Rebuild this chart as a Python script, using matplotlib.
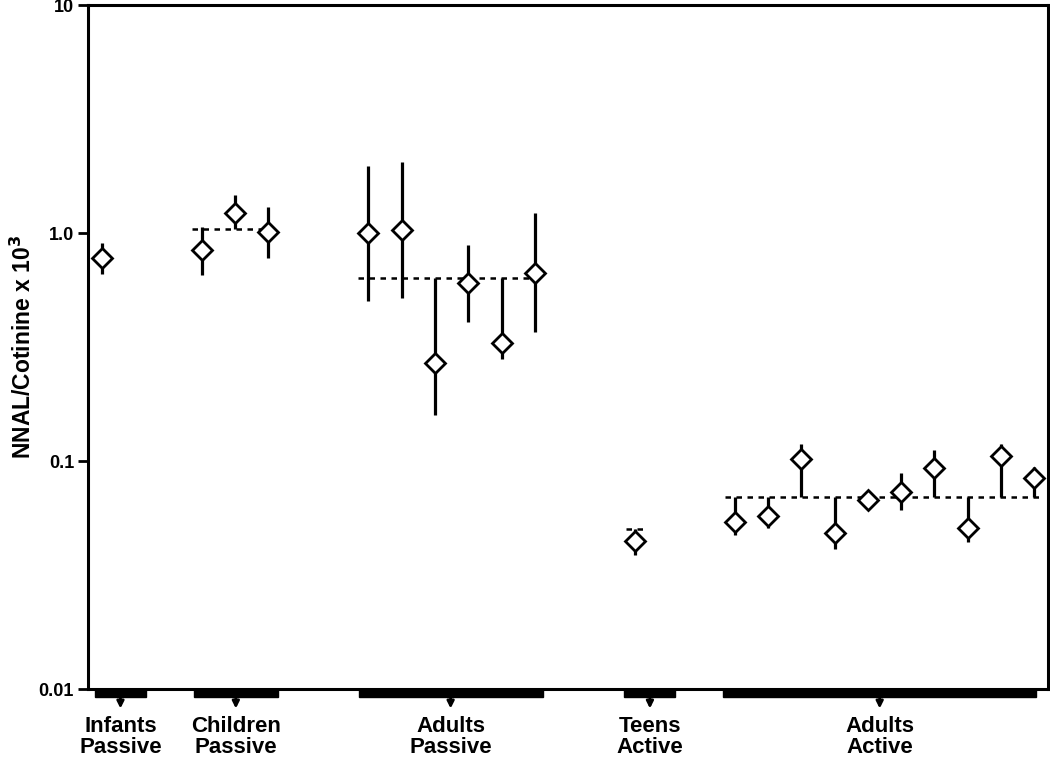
import numpy as np
import matplotlib.pyplot as plt
from matplotlib.patches import Rectangle
from matplotlib.transforms import blended_transform_factory

# 各组标签和底部黑条范围
group_labels = ['Infants\nPassive', 'Children\nPassive', 'Adults\nPassive', 'Teens\nActive', 'Adults\nActive']
group_span = [(-0.21, 1.32), (2.76, 5.28), (7.71, 13.23), (15.69, 17.22), (18.66, 28.05)]
group_mean = [None, 1.04, 0.637, 0.0502, 0.0695]

# 每个研究的位置、组别、比值和误差范围
x_pos = [0, 3, 4, 5, 8, 9, 10, 11, 12, 13, 16, 19, 20, 21, 22, 23, 24, 25, 26, 27, 28]
group = [0, 1, 1, 1, 2, 2, 2, 2, 2, 2, 3, 4, 4, 4, 4, 4, 4, 4, 4, 4, 4]
ratio = [0.774, 0.842, 1.22, 1.013, 1.003, 1.031, 0.268, 0.605, 0.328, 0.666, 0.0447,
         0.0538, 0.0575, 0.1017, 0.0482, 0.0675, 0.0733, 0.0935, 0.0507, 0.105, 0.0839]
err_lo = [0.661, 0.654, 1.04, 0.774, 0.505, 0.520, 0.159, 0.406, 0.279, 0.367, 0.0387,
          0.0473, 0.0507, 0.0695, 0.041, 0.0675, 0.061, 0.0695, 0.044, 0.0695, 0.0695]
err_hi = [0.907, 1.066, 1.47, 1.304, 1.967, 2.05, 0.637, 0.883, 0.637, 1.228, 0.0502,
          0.0695, 0.0695, 0.1184, 0.0695, 0.0675, 0.0889, 0.1117, 0.0695, 0.1184, 0.0944]
y_ticks = [0.01, 0.1, 1.0, 10]
y_ticklabels = ['0.01', '0.1', '1.0', '10']

plt.rcParams['font.family'] = ['Liberation Sans', 'DejaVu Sans']

fig = plt.figure(figsize=(10.5, 7.6), dpi=100)
ax = fig.add_axes([0.0838, 0.0934, 0.914, 0.90])

# 误差线
ax.vlines(x_pos, err_lo, err_hi, colors='black', linewidth=2.3, zorder=2)

# 组均值虚线
for g, m in enumerate(group_mean):
    if m is None:
        continue
    xs = [x for x, gg in zip(x_pos, group) if gg == g]
    if len(xs) == 1:
        x0, x1 = xs[0] - 0.25, xs[0] + 0.25
    else:
        x0, x1 = xs[0] - 0.3, xs[-1] + 0.15
    ax.plot([x0, x1], [m, m], color='black', linestyle=(0, (2.2, 2.2)), linewidth=1.8, zorder=1)

# 菱形点
ax.plot(x_pos, ratio, linestyle='none', marker='D', markersize=10.5, markerfacecolor='white',
        markeredgecolor='black', markeredgewidth=2.0, zorder=3)

ax.set_yscale('log')
ax.set_ylim(0.01, 10)
ax.set_xlim(-0.42, 28.4)
ax.set_yticks(y_ticks)
ax.set_yticklabels(y_ticklabels, fontsize=13, fontweight='bold')
ax.minorticks_off()
ax.tick_params(axis='y', length=7, width=2, pad=3)
ax.set_xticks([])
for s in ax.spines.values():
    s.set_linewidth(2.2)
ax.set_ylabel('NNAL/Cotinine x 10$^{\\mathbf{3}}$', fontsize=16.5, fontweight='bold', labelpad=2)

# 底部分组黑条、箭头和标签
trans = blended_transform_factory(ax.transData, ax.transAxes)
for (a, b), lab in zip(group_span, group_labels):
    ax.add_patch(Rectangle((a, 0.0), b - a, -0.0115, transform=trans, color='black', clip_on=False))
    c = (a + b) / 2
    ax.annotate('', xy=(c, -0.0285), xytext=(c, -0.011), xycoords=trans, textcoords=trans,
                arrowprops=dict(arrowstyle='-|>', color='black', lw=2, mutation_scale=10,
                                shrinkA=0, shrinkB=0), annotation_clip=False)
    ax.text(c, -0.039, lab, transform=trans, ha='center', va='top', fontsize=16,
            fontweight='bold', linespacing=1.0)

fig.savefig('out.png', dpi=100)
